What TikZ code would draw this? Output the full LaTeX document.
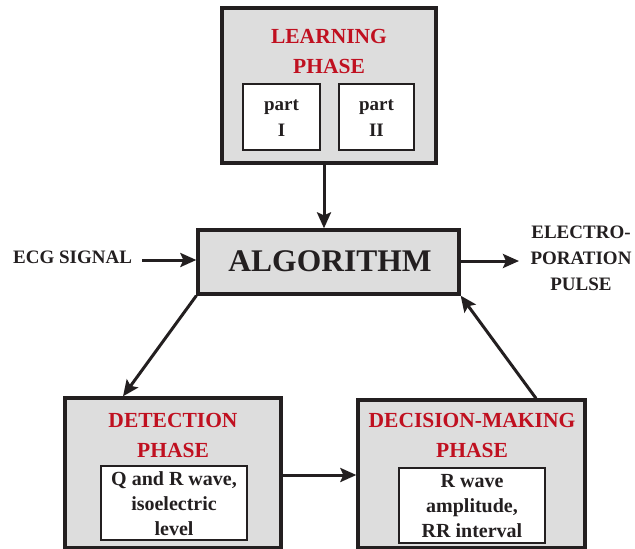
\documentclass[tikz,border=0pt]{standalone}
\usepackage{fontspec}
\setmainfont{Liberation Serif}
\usetikzlibrary{arrows.meta}
\definecolor{boxgray}{RGB}{221,221,221}
\definecolor{headred}{RGB}{192,16,32}
\definecolor{ink}{RGB}{35,31,32}
\begin{document}
\begin{tikzpicture}[x=1pt,y=-1pt,
  outerbox/.style={draw=ink, line width=3.3pt, fill=boxgray, inner sep=0pt, rectangle},
  innerbox/.style={draw=ink, line width=2.8pt, fill=white, inner sep=0pt, rectangle},
  head/.style={text=headred, font=\bfseries\fontsize{21.5}{30}\selectfont, align=center, anchor=base, inner sep=0pt},
  body/.style={text=ink, font=\bfseries\fontsize{20}{25}\selectfont, align=center, anchor=base, inner sep=0pt},
  side/.style={text=ink, font=\bfseries\fontsize{19}{26}\selectfont, align=center, anchor=base, inner sep=0pt},
  arr/.style={draw=ink, line width=3pt, -{Stealth[length=16pt,width=14pt,inset=3pt]}}]
\useasboundingbox (0,0) rectangle (635,549);

% boxes
\node[outerbox, minimum width=214pt, minimum height=155pt] (learn) at (329,85.5) {};
\node[innerbox, minimum width=77pt, minimum height=66pt] (part1) at (281.5,117) {};
\node[innerbox, minimum width=75pt, minimum height=66pt] (part2) at (376.5,117) {};
\node[outerbox, minimum width=261pt, minimum height=64pt] (alg) at (328.5,262) {};
\node[outerbox, minimum width=216pt, minimum height=150pt] (det) at (173,473) {};
\node[innerbox, minimum width=146pt, minimum height=74pt] (detin) at (174,503) {};
\node[outerbox, minimum width=227pt, minimum height=148pt] (dec) at (471.5,474) {};
\node[innerbox, minimum width=146pt, minimum height=75pt] (decin) at (472,505.5) {};

% texts (base anchor = baseline of last line)
\node[head] (learnt) at (329,73) {LEARNING\\PHASE};
\node[body, font=\bfseries\fontsize{19}{26}\selectfont] (part1t) at (281.5,136) {part\\I};
\node[body, font=\bfseries\fontsize{19}{26}\selectfont] (part2t) at (376.5,136) {part\\II};
\node[text=ink, font=\bfseries\fontsize{31.5}{36}\selectfont, anchor=base, inner sep=0pt] (algt) at (330,271) {ALGORITHM};
\node[side, anchor=base west] (ecg) at (13,263) {ECG SIGNAL};
\node[side] (pulse) at (581,290) {ELECTRO-\\PORATION\\PULSE};
\node[head] (dett) at (173,457) {DETECTION\\PHASE};
\node[head] (dect) at (472,457) {DECISION-MAKING\\PHASE};
\node[body] (detint) at (174,535) {Q and R wave,\\isoelectric\\level};
\node[body] (decint) at (472,537) {R wave\\amplitude,\\RR interval};

% connectors
\coordinate (ecgstart) at (142,260);
\coordinate (pulseend) at (519,261);
\draw[arr] ([xshift=-5pt]learn.south) -- ([xshift=-4.5pt]alg.north);
\draw[arr] (ecgstart) -- (ecgstart -| alg.west);
\draw[arr] ([yshift=1pt]alg.east) -- (pulseend);
\draw[arr] (alg.south west) -- ([xshift=-50pt]det.north);
\draw[arr] ([xshift=64.5pt]dec.north) -- (alg.south east);
\draw[arr] ([yshift=-2pt]det.east) -- ([yshift=-2pt]det.east -| dec.west);
\end{tikzpicture}
\end{document}
